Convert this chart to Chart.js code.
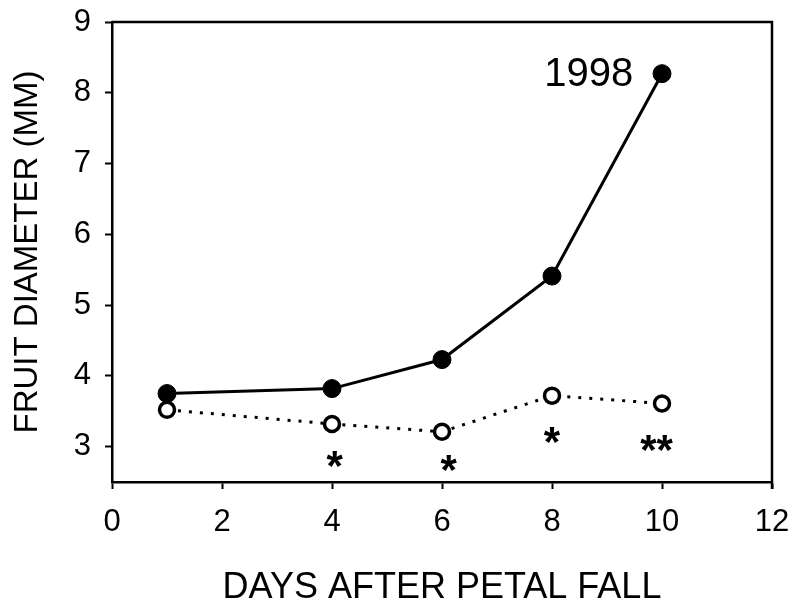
<!DOCTYPE html>
<html>
<head>
<meta charset="utf-8">
<script src="https://cdn.jsdelivr.net/npm/chart.js@4/dist/chart.umd.min.js"></script>
<style>
	html, body { margin: 0; padding: 0; background: #fff; }
	#wrap { width: 794px; height: 599px; }
</style>
</head>
<body>
<div id="wrap"><canvas id="myChart" width="794" height="599"></canvas></div>
<script>
// values
const days = [1, 4, 6, 8, 10];
const solidDiam = [3.75, 3.82, 4.23, 5.41, 8.27];
const openDiam = [3.52, 3.32, 3.21, 3.72, 3.61];

const xTicks = [0, 2, 4, 6, 8, 10, 12];
const yTicks = [3, 4, 5, 6, 7, 8, 9];

// significance marks under the open series
const starDays = [4.05, 6.12, 8, 9.9];
const starPos = [2.87, 2.82, 3.21, 3.1];
const starText = ['*', '*', '*', '**'];

const yearLabel = '1998';
const yearAt = [7.86, 8.1];

const font = 'Liberation Sans, Arial, Helvetica, sans-serif';

const toPoints = (xs, ys) => xs.map((x, i) => ({ x: x, y: ys[i] }));

// top + right frame and the text marks
const extras = {
	id: 'extras',
	afterDatasetsDraw(chart) {
		const c = chart.ctx;
		const a = chart.chartArea;
		const sx = chart.scales.x;
		const sy = chart.scales.y;
		c.save();
		c.strokeStyle = '#000';
		c.lineWidth = 2.5;
		c.beginPath();
		c.moveTo(a.left, a.top);
		c.lineTo(a.right, a.top);
		c.lineTo(a.right, a.bottom + 7);
		c.stroke();

		c.fillStyle = '#000';
		c.font = 'bold 42px ' + font;
		c.textAlign = 'center';
		c.textBaseline = 'alphabetic';
		starText.forEach((s, i) => {
			const px = sx.getPixelForValue(starDays[i]);
			const py = sy.getPixelForValue(starPos[i]);
			c.fillText(s, px, py + 0.58 * 42);
		});

		c.font = '40px ' + font;
		c.textAlign = 'left';
		c.fillText(yearLabel, sx.getPixelForValue(yearAt[0]), sy.getPixelForValue(yearAt[1]));
		c.restore();
	}
};

const ctx = document.getElementById('myChart').getContext('2d');
let myChart = new Chart(ctx, {
	type: 'scatter',
	data: {
		datasets: [
			{
				data: toPoints(days, solidDiam),
				showLine: true,
				borderColor: '#000',
				borderWidth: 3,
				backgroundColor: '#000',
				pointRadius: 9,
				pointBorderWidth: 1
			},
			{
				data: toPoints(days, openDiam),
				showLine: true,
				borderColor: '#000',
				borderWidth: 3,
				borderDash: [3, 8],
				backgroundColor: '#fff',
				pointRadius: 7.5,
				pointBorderWidth: 3.5
			}
		]
	},
	options: {
		responsive: false,
		animation: false,
		layout: { padding: { left: 0, top: 22, right: 22, bottom: 0 } },
		plugins: {
			legend: { display: false },
			tooltip: { enabled: false }
		},
		scales: {
			x: {
				type: 'linear',
				min: 0,
				max: 12,
				afterBuildTicks: s => { s.ticks = xTicks.map(v => ({ value: v })); },
				afterFit: s => { s.height = 117; s.paddingLeft = 0; s.paddingRight = 0; },
				grid: { drawOnChartArea: false, tickLength: 7, tickWidth: 2, tickColor: '#000' },
				border: { color: '#000', width: 2.5 },
				ticks: { color: '#000', padding: 15, font: { family: font, size: 31 } },
				title: {
					display: true,
					text: 'DAYS AFTER PETAL FALL',
					color: '#000',
					padding: { top: 0, bottom: 0 },
					font: { family: font, size: 36, lineHeight: 0.6 }
				}
			},
			y: {
				type: 'linear',
				min: 2.5,
				max: 9,
				afterBuildTicks: s => { s.ticks = yTicks.map(v => ({ value: v })); },
				afterFit: s => { s.width = 112; s.paddingTop = 0; s.paddingBottom = 0; },
				grid: { drawOnChartArea: false, tickLength: 7, tickWidth: 2, tickColor: '#000' },
				border: { color: '#000', width: 2.5 },
				ticks: { color: '#000', padding: 14, font: { family: font, size: 31 } },
				title: {
					display: true,
					text: 'FRUIT DIAMETER (MM)',
					color: '#000',
					padding: { top: 8, bottom: 0 },
					font: { family: font, size: 33, lineHeight: 1.2 }
				}
			}
		}
	},
	plugins: [extras]
});
</script>
</body>
</html>
